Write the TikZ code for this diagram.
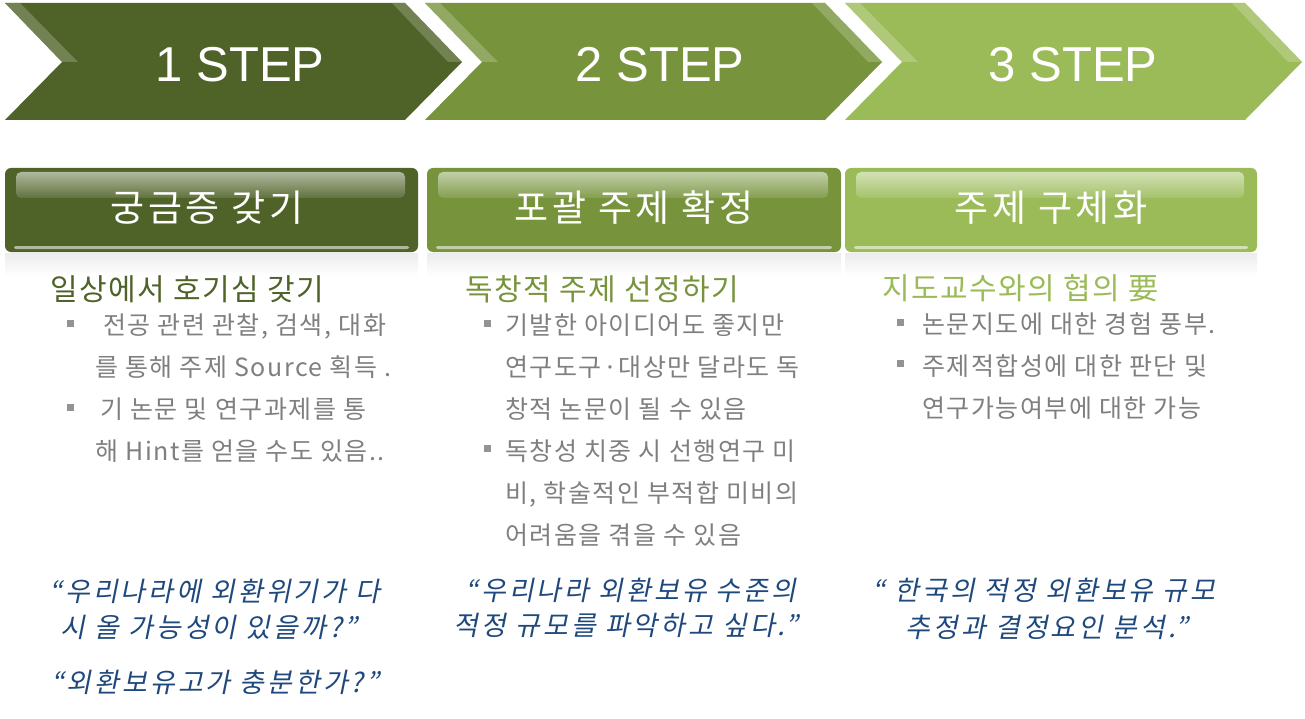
\documentclass[tikz,border=0pt]{standalone}
\usepackage{fontspec}
\setmainfont{Liberation Sans}
\newfontfamily\krhead[LetterSpace=10]{Noto Sans CJK KR}
\newfontfamily\krsub[LetterSpace=5]{Noto Sans CJK KR}
\newfontfamily\krbody[LetterSpace=6]{Noto Sans CJK KR}
\newfontfamily\krslant[FakeSlant=0.2,LetterSpace=11]{Noto Sans CJK KR}
\definecolor{oliveDark}{HTML}{4F6228}
\definecolor{oliveMid}{HTML}{77933C}
\definecolor{oliveLight}{HTML}{9BBB59}
\definecolor{bodyGray}{HTML}{7F7F7F}
\definecolor{quoteBlue}{HTML}{1F497D}
\begin{document}
\begin{tikzpicture}[x=1pt,y=-1pt,
  steptext/.style={text=white,font=\fontsize{49}{50}\selectfont,anchor=base,inner sep=0},
  headtext/.style={text=white,font=\krhead\fontsize{37}{38}\selectfont,anchor=base,inner sep=0},
  subhead/.style={font=\krsub\fontsize{30}{32}\selectfont,anchor=base west,inner sep=0},
  bodyline/.style={text=bodyGray,font=\krbody\fontsize{25}{27}\selectfont,anchor=base west,inner sep=0},
  bulletmark/.style={fill=gray!85,minimum size=7pt,inner sep=0},
  quoteline/.style={text=quoteBlue,font=\krslant\fontsize{27}{28}\selectfont,anchor=base,inner sep=0}]
\useasboundingbox (0,0) rectangle (1305,719);
% step chevrons
\fill[oliveDark] (5,3) -- (405,3) -- (462,62) -- (405,120) -- (5,120) -- (62,62) -- cycle;
\fill[oliveDark!55!white,opacity=0.45] (5,3) -- (20,3) -- (78,62) -- (62,62) -- cycle;
\fill[oliveDark!55!white,opacity=0.45] (392,3) -- (405,3) -- (462,62) -- (448,62) -- cycle;
\fill[oliveMid] (425,3) -- (825,3) -- (882,62) -- (825,120) -- (425,120) -- (482,62) -- cycle;
\fill[oliveMid!55!white,opacity=0.45] (425,3) -- (440,3) -- (498,62) -- (482,62) -- cycle;
\fill[oliveMid!55!white,opacity=0.45] (812,3) -- (825,3) -- (882,62) -- (868,62) -- cycle;
\fill[oliveLight] (845,3) -- (1245,3) -- (1302,62) -- (1245,120) -- (845,120) -- (902,62) -- cycle;
\fill[oliveLight!55!white,opacity=0.45] (845,3) -- (860,3) -- (918,62) -- (902,62) -- cycle;
\fill[oliveLight!55!white,opacity=0.45] (1232,3) -- (1245,3) -- (1302,62) -- (1288,62) -- cycle;
\node[steptext] (step1) at (240,82) {1 STEP};
\node[steptext] (step2) at (660,82) {2 STEP};
\node[steptext] (step3) at (1073,82) {3 STEP};
% header boxes
\shade[top color=gray!15,bottom color=white] (5,253) rectangle (418,276);
\fill[oliveDark,rounded corners=6pt] (5,168) rectangle (418,252);
\shade[rounded corners=5pt,top color=oliveDark!45!white,bottom color=oliveDark!90!white] (16,172) rectangle (405,198);
\fill[oliveDark!45!white,rounded corners=2pt] (14,246) rectangle (409,249);
\shade[top color=gray!15,bottom color=white] (427,253) rectangle (841,276);
\fill[oliveMid,rounded corners=6pt] (427,168) rectangle (841,252);
\shade[rounded corners=5pt,top color=oliveMid!45!white,bottom color=oliveMid!90!white] (438,172) rectangle (828,198);
\fill[oliveMid!45!white,rounded corners=2pt] (436,246) rectangle (832,249);
\shade[top color=gray!15,bottom color=white] (845,253) rectangle (1257,276);
\fill[oliveLight,rounded corners=6pt] (845,168) rectangle (1257,252);
\shade[rounded corners=5pt,top color=oliveLight!45!white,bottom color=oliveLight!90!white] (856,172) rectangle (1244,198);
\fill[oliveLight!45!white,rounded corners=2pt] (854,246) rectangle (1248,249);
\node[headtext] (head1) at (207,222) {궁금증 갖기};
\node[headtext] (head2) at (634,222) {포괄 주제 확정};
\node[headtext] (head3) at (1051,222) {주제 구체화};
% column 1
\node[subhead,text=oliveDark] (sub1) at (50,300) {일상에서 호기심 갖기};
\node[bulletmark] (b1a) at (70,323) {};
\node[bodyline] (t1a) at (103,334) {전공 관련 관찰, 검색, 대화};
\node[bodyline] (t1b) at (95,376) {를 통해 주제 Source 획득 .};
\node[bulletmark] (b1b) at (70,407) {};
\node[bodyline] (t1c) at (100,418) {기 논문 및 연구과제를 통};
\node[bodyline] (t1d) at (95,460) {해 Hint를 얻을 수도 있음..};
% column 2
\node[subhead,text=oliveMid] (sub2) at (465,300) {독창적 주제 선정하기};
\node[bulletmark] (b2a) at (487,323) {};
\node[bodyline] (t2a) at (505,334) {기발한 아이디어도 좋지만};
\node[bodyline] (t2b) at (505,376) {연구도구·대상만 달라도 독};
\node[bodyline] (t2c) at (505,418) {창적 논문이 될 수 있음};
\node[bulletmark] (b2b) at (487,448) {};
\node[bodyline] (t2d) at (505,460) {독창성 치중 시 선행연구 미};
\node[bodyline] (t2e) at (505,502) {비, 학술적인 부적합 미비의};
\node[bodyline] (t2f) at (505,544) {어려움을 겪을 수 있음};
% column 3
\node[subhead,text=oliveLight] (sub3) at (882,299) {지도교수와의 협의 要};
\node[bulletmark] (b3a) at (900,322) {};
\node[bodyline] (t3a) at (922,333) {논문지도에 대한 경험 풍부.};
\node[bulletmark] (b3b) at (900,363) {};
\node[bodyline] (t3b) at (922,375) {주제적합성에 대한 판단 및};
\node[bodyline] (t3c) at (922,417) {연구가능여부에 대한 가능};
% quotes
\node[quoteline] (q1a) at (215,601) {“우리나라에 외환위기가 다};
\node[quoteline] (q1b) at (209,637) {시 올 가능성이 있을까?”};
\node[quoteline] (q1c) at (215,692) {“외환보유고가 충분한가?”};
\node[quoteline] (q2a) at (631,600) {“우리나라 외환보유 수준의};
\node[quoteline] (q2b) at (626,635) {적정 규모를 파악하고 싶다.”};
\node[quoteline] (q3a) at (1044,600) {“ 한국의 적정 외환보유 규모};
\node[quoteline] (q3b) at (1047,637) {추정과 결정요인 분석.”};
\end{tikzpicture}
\end{document}
